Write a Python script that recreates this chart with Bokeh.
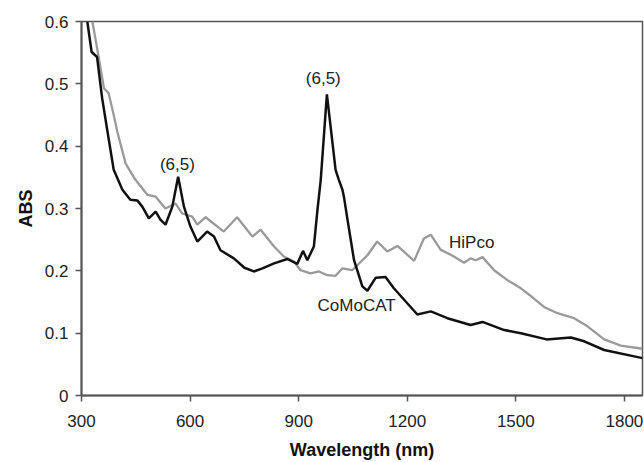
from bokeh.plotting import figure
from bokeh.models import Range1d, FixedTicker, ColumnDataSource
from bokeh.core.properties import value
from bokeh.embed import file_html
from bokeh.resources import INLINE

# CoMoCAT (black)
como_x = [316, 328, 343, 357, 370, 389, 413, 435, 454, 468, 486, 505, 518, 532, 551, 567,
          583, 601, 620, 647, 666, 684, 721, 750, 776, 800, 832, 869, 896, 912, 924, 942,
          952, 961, 978, 1002, 1011, 1021, 1025, 1035, 1053, 1076, 1090, 1113, 1140, 1163,
          1200, 1228, 1265, 1311, 1375, 1408, 1468, 1514, 1585, 1652, 1689, 1744, 1850]
como_y = [0.600, 0.551, 0.543, 0.477, 0.430, 0.362, 0.330, 0.314, 0.313, 0.303, 0.284, 0.295,
          0.282, 0.274, 0.303, 0.351, 0.303, 0.271, 0.247, 0.263, 0.255, 0.233, 0.220, 0.205,
          0.199, 0.204, 0.212, 0.219, 0.211, 0.232, 0.217, 0.239, 0.298, 0.346, 0.483, 0.362,
          0.346, 0.330, 0.319, 0.282, 0.217, 0.175, 0.168, 0.189, 0.190, 0.172, 0.148, 0.130,
          0.135, 0.124, 0.113, 0.118, 0.105, 0.100, 0.090, 0.093, 0.087, 0.073, 0.060]

# HiPco (grey)
hipco_x = [330, 348, 362, 375, 389, 399, 422, 449, 482, 505, 532, 560, 578, 606, 620, 643,
           693, 730, 772, 795, 832, 859, 887, 905, 933, 956, 979, 1002, 1021, 1048, 1090,
           1117, 1145, 1173, 1219, 1246, 1265, 1292, 1329, 1357, 1375, 1389, 1408, 1440,
           1477, 1514, 1545, 1578, 1615, 1661, 1698, 1744, 1790, 1850]
hipco_y = [0.600, 0.541, 0.493, 0.485, 0.450, 0.423, 0.372, 0.346, 0.322, 0.319, 0.300, 0.308,
           0.292, 0.287, 0.274, 0.286, 0.263, 0.286, 0.255, 0.266, 0.239, 0.223, 0.215, 0.201,
           0.196, 0.199, 0.193, 0.192, 0.204, 0.201, 0.225, 0.247, 0.231, 0.240, 0.216, 0.252,
           0.258, 0.234, 0.223, 0.213, 0.220, 0.217, 0.222, 0.201, 0.185, 0.172, 0.158, 0.142,
           0.132, 0.124, 0.111, 0.090, 0.080, 0.075]

# Annotations
label_text = ["(6,5)", "(6,5)", "HiPco", "CoMoCAT"]
label_x = [565, 968, 1378, 1060]
label_y = [0.370, 0.509, 0.245, 0.145]

x_ticks = [300, 600, 900, 1200, 1500, 1800]
y_ticks = [0, 0.1, 0.2, 0.3, 0.4, 0.5, 0.6]
y_tick_labels = ["0", "0.1", "0.2", "0.3", "0.4", "0.5", "0.6"]

FONT = "Liberation Sans"

p = figure(width=644, height=462, output_backend="svg", toolbar_location=None,
           x_range=Range1d(300, 1850), y_range=Range1d(0, 0.6),
           min_border_left=81, min_border_right=2, min_border_top=21, min_border_bottom=66)

p.background_fill_color = "white"
p.border_fill_color = "white"
p.outline_line_color = "#555555"
p.outline_line_width = 1.5
p.xgrid.visible = False
p.ygrid.visible = False

p.line(hipco_x, hipco_y, line_color="#9a9a9a", line_width=2.3)
p.line(como_x, como_y, line_color="#111111", line_width=2.5)

src = ColumnDataSource(dict(x=label_x, y=label_y, t=label_text))
p.text("x", "y", text="t", source=src, text_align="center", text_baseline="middle",
       text_font=value(FONT), text_font_size=value("17px"), text_color="#222222")

for ax in (p.xaxis[0], p.yaxis[0]):
    ax.axis_line_color = "#555555"
    ax.axis_line_width = 2
    ax.major_tick_line_color = "#555555"
    ax.major_tick_line_width = 1.5
    ax.major_tick_out = 6
    ax.major_tick_in = 0
    ax.minor_tick_out = 0
    ax.minor_tick_in = 0
    ax.major_label_text_font = FONT
    ax.major_label_text_font_size = "17px"
    ax.major_label_text_color = "#222222"
    ax.axis_label_text_font = FONT
    ax.axis_label_text_font_size = "18px"
    ax.axis_label_text_font_style = "bold"
    ax.axis_label_text_color = "#111111"

p.xaxis.ticker = FixedTicker(ticks=x_ticks)
p.yaxis.ticker = FixedTicker(ticks=y_ticks)
p.yaxis.major_label_overrides = {t: l for t, l in zip(y_ticks, y_tick_labels)}
p.xaxis.axis_label = "Wavelength (nm)"
p.yaxis.axis_label = "ABS"
p.xaxis.major_label_standoff = 13
p.yaxis.major_label_standoff = 7
p.xaxis.axis_label_standoff = 10
p.yaxis.axis_label_standoff = 6

open("out.html", "w").write(file_html(p, INLINE))
